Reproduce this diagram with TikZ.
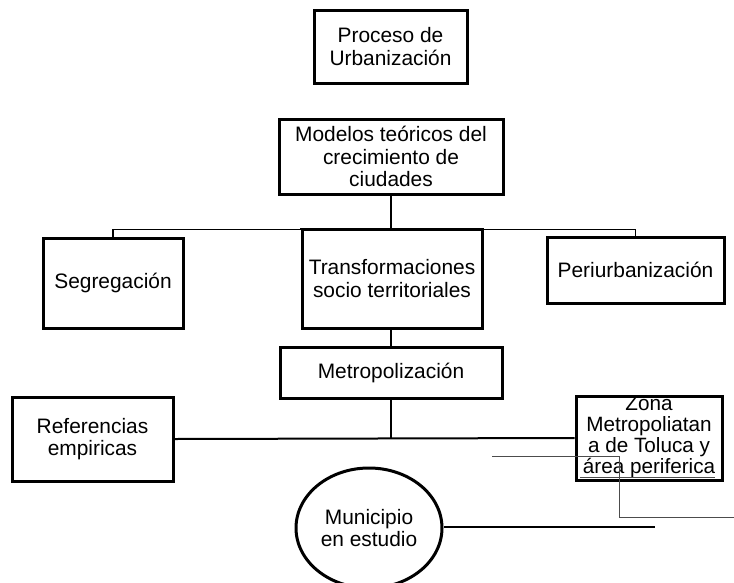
\documentclass[tikz,border=0pt]{standalone}
\usepackage{fontspec}
\setmainfont{Liberation Sans}
\usetikzlibrary{shapes.geometric}
\begin{document}
\begin{tikzpicture}[x=1pt,y=-1pt,
  every node/.style={font=\fontsize{20.9}{22.5}\selectfont, align=center, inner sep=0pt},
  box/.style={draw, line width=3pt, rectangle, minimum width=#1},
  thinline/.style={line width=1.3pt},
  midline/.style={line width=2pt},
  grayline/.style={line width=0.8pt, black!70}]
\useasboundingbox (0,0) rectangle (734,582);
% boxes
\node[box=153pt, minimum height=73pt] (proc) at (390.5,46.5) {Proceso de\\Urbanización};
\node[box=224pt, minimum height=75pt] (mod) at (391,156.5) {Modelos teóricos del\\crecimiento de\\ciudades};
\node[box=140pt, minimum height=90pt] (seg) at (113,283) {Segregación};
\node[box=180pt, minimum height=99pt] (trans) at (392,278.5) {Transformaciones\\socio territoriales};
\node[box=177pt, minimum height=66pt] (peri) at (635.5,270) {Periurbanización};
\node[box=222pt, minimum height=51pt] (metro) at (391,372.5) {Metropolización};
\node[box=161pt, minimum height=84pt] (ref) at (92.5,439) {Referencias\\empiricas};
\node[draw, ellipse, line width=3pt, minimum width=146pt, minimum height=120pt] (muni) at (369,528) {Municipio\\en estudio};
% zona box with clipped text
\begin{scope}
  \clip (576,396) rectangle (722,480);
  \node[font=\fontsize{20.7}{20.7}\selectfont] (zonatext) at (649,437) {Zona\\Metropoliatan\\a de Toluca y\\área periferica};
\end{scope}
\node[box=146pt, minimum height=84pt] (zona) at (649,438) {};
% connectors
\draw[thinline] (seg.north) -- ++(0,-7) -| (trans.north west);
\draw[thinline] (trans.north east) ++(0,2) -| (peri.north);
\draw[midline] (mod.south) -- (mod.south |- trans.north);
\draw[midline] (metro.north) -- (metro.north |- trans.south);
\draw[midline] (metro.south) -- (metro.south |- ref.east);
\draw[midline] (ref.east) -- (zona.west);
\coordinate (g1) at (492,456);
\coordinate (g2) at (734,517);
\draw[grayline] (g1) -- (619,456) -- (619,517) -- (g2);
\coordinate (u1) at (580,477);
\coordinate (u2) at (715,477);
\draw[grayline] (u1) -- (u2);
\coordinate (m2) at (655,527);
\draw[midline] (muni.east |- m2) -- (m2);
\end{tikzpicture}
\end{document}
